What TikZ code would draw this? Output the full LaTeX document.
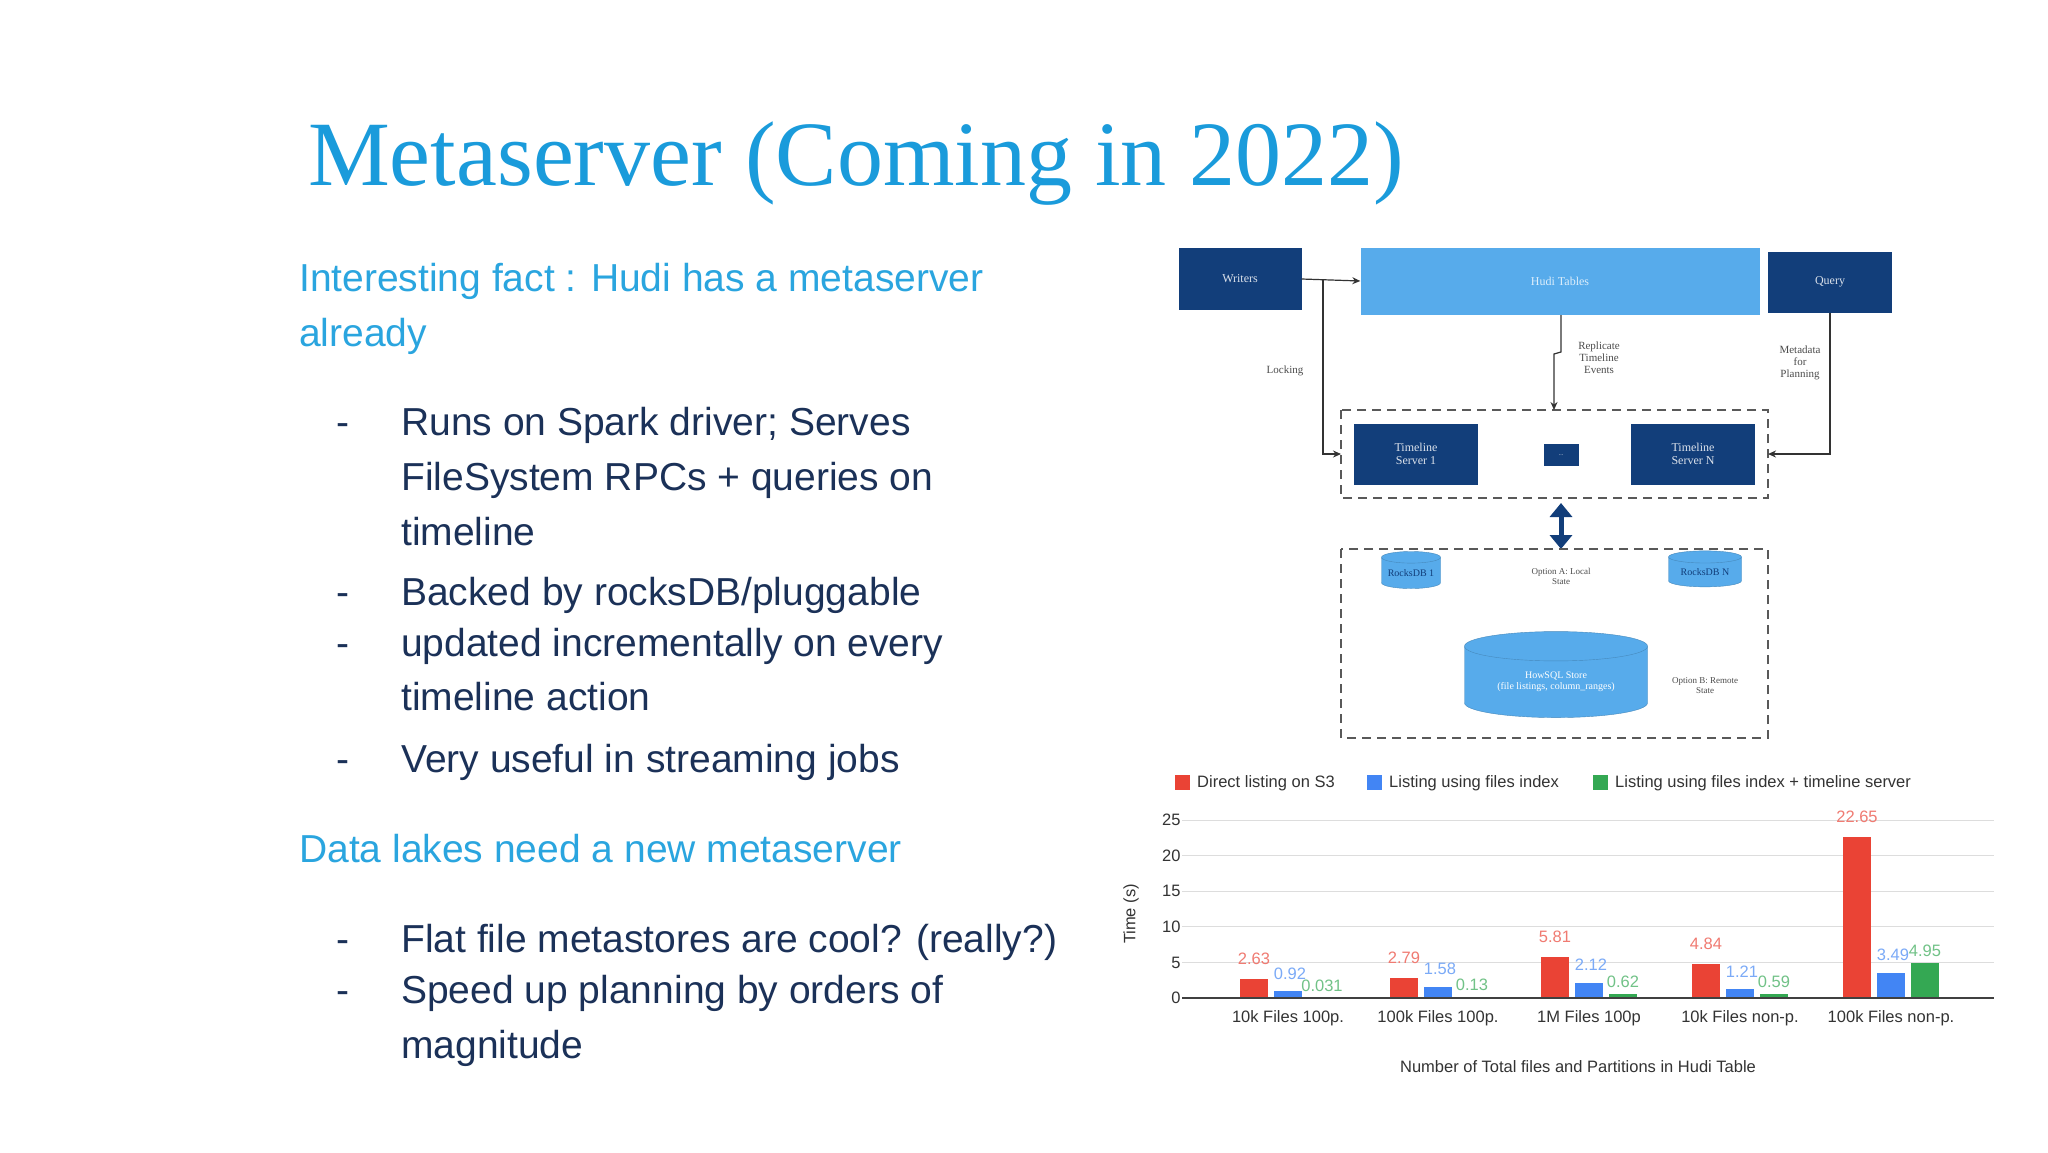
\documentclass[tikz,border=0pt]{standalone}
\usepackage{fontspec}
\setmainfont{Liberation Sans}
\newfontfamily\ser{Liberation Serif}
\usetikzlibrary{shapes.geometric,arrows.meta}
\definecolor{ttl}{HTML}{1A9BDB}
\definecolor{sub}{HTML}{2AA5DF}
\definecolor{body}{HTML}{1B3158}
\definecolor{navy}{HTML}{123E7A}
\definecolor{lb}{HTML}{57ABEB}
\definecolor{cr}{HTML}{EA4335}
\definecolor{cb}{HTML}{4285F4}
\definecolor{cg}{HTML}{34A853}
\definecolor{grid}{HTML}{DDDDDD}
\tikzset{
 bodytxt/.style={anchor=base west,text=body,font=\fontsize{39}{46}\selectfont,inner sep=0},
 subtxt/.style={anchor=base west,text=sub,font=\fontsize{39}{46}\selectfont,inner sep=0},
 nbox/.style={fill=navy,text=white!85!navy,font=\ser\fontsize{12}{13}\selectfont,align=center,inner sep=0},
 lab/.style={font=\ser\fontsize{11}{12}\selectfont,text=black!70,align=center,inner sep=1},
 arr/.style={-{Stealth[length=8,width=7]},line width=1.2,black!80},
 dbox/.style={draw=black!65,dashed,line width=1.6,dash pattern=on 9 off 6},
 cyl/.style={cylinder,shape border rotate=90,aspect=0.25,fill=lb,draw=lb!80!black,text=white,font=\ser\fontsize{10}{11}\selectfont,align=center,inner sep=0},
 ax/.style={font=\fontsize{16.5}{18}\selectfont,text=black!80},
}
\begin{document}
\begin{tikzpicture}[x=1pt,y=-1pt]
\useasboundingbox (0,0) rectangle (2048,1152);
\fill[white] (0,0) rectangle (2048,1152);
\node[anchor=base west,text=ttl,font=\ser\fontsize{92}{96}\selectfont,inner sep=0] (title) at (308,185) {Metaserver (Coming in 2022)};
\node[subtxt] (s1) at (299,291) {Interesting fact : Hudi has a metaserver};
\node[subtxt] (s1b) at (299,346) {already};
\foreach \y/\d/\t in {435/1/{Runs on Spark driver; Serves},490/0/{FileSystem RPCs + queries on},545/0/{timeline},605/1/{Backed by rocksDB/pluggable},656/1/{updated incrementally on every},710/0/{timeline action},772/1/{Very useful in streaming jobs},952/1/{Flat file metastores are cool? (really?)},1003/1/{Speed up planning by orders of},1058/0/{magnitude}}{
 \node[bodytxt] at (401,\y) {\t};
 \ifnum\d=1 \node[bodytxt] at (336,\y) {-};\fi
}
\node[subtxt] (s2) at (299,862) {Data lakes need a new metaserver};
% diagram
\node[nbox,minimum width=123,minimum height=62] (wr) at (1240,279) {Writers};
\node[nbox,fill=lb,text=white!80!lb,minimum width=399,minimum height=67] (hudi) at (1560,281) {Hudi Tables};
\node[nbox,minimum width=124,minimum height=61] (qu) at (1830,282) {Query};
\draw[dbox] (1341,410) rectangle (1768,498);
\coordinate (b1w) at (1341,454); \coordinate (b1e) at (1768,454); \coordinate (b1n) at (1554,410);
\node[nbox,minimum width=124,minimum height=61] (ts1) at (1416,454) {Timeline\\Server 1};
\node[nbox,minimum width=124,minimum height=61] (tsn) at (1693,454) {Timeline\\Server N};
\node[nbox,minimum width=35,minimum height=22,font=\ser\fontsize{6}{6}\selectfont] (dots) at (1561,455) {...};
\draw[arr] (wr.east) -- (hudi.west);
\draw[arr] (1323,279) |- (b1w);
\node[lab] (lock) at (1285,371) {Locking};
\draw[arr] (1561,315) -- (1561,352) -- (1554,354) -- (b1n);
\node[lab] (rep) at (1599,358) {Replicate\\Timeline\\Events};
\draw[arr] (qu.south -| 1830,0) |- (b1e);
\node[lab] (meta) at (1800,363) {Metadata\\for\\Planning};
\draw[navy,line width=5,{Triangle[length=14,width=22]}-{Triangle[length=14,width=22]}] (1561,503) -- (1561,549);
\draw[dbox] (1341,549) rectangle (1768,738);
\node[cyl,text=navy,minimum width=59,minimum height=37] (r1) at (1411,573) {RocksDB 1};
\node[cyl,text=navy,minimum width=73,minimum height=36] (rn) at (1705,572) {RocksDB N};
\node[lab,font=\ser\fontsize{9}{10}\selectfont] (oa) at (1561,576) {Option A: Local\\State};
\node[cyl,minimum width=183,minimum height=86] (hb) at (1556,682) {HowSQL Store\\(file listings, column\_ranges)};
\node[lab,font=\ser\fontsize{9}{10}\selectfont] (ob) at (1705,686) {Option B: Remote\\State};
% chart
\foreach \c/\x/\t in {cr/1175/Direct listing on S3,cb/1367/Listing using files index,cg/1593/Listing using files index + timeline server}{
 \fill[\c] (\x,775) rectangle ++(15,15);
 \node[ax,anchor=west,inner sep=0] at (\x+22,783) {\t};
}
\foreach \v in {5,10,15,20,25}{
 \draw[grid,line width=1] (1182,998-\v*7.12) -- (1994,998-\v*7.12);
}
\foreach \v in {0,5,10,15,20,25}{
 \node[ax,anchor=east] at (1184,998-\v*7.12) {\v};
}
\node[ax,rotate=90] (yl) at (1131,914) {Time (s)};
\foreach \cx/\r/\b/\g/\t in {1288/2.63/0.92/0.031/10k Files 100p.,1438/2.79/1.58/0.13/100k Files 100p.,1589/5.81/2.12/0.62/1M Files 100p,1740/4.84/1.21/0.59/10k Files non-p.,1891/22.65/3.49/4.95/100k Files non-p.}{
 \fill[cr] (\cx-48,998) rectangle (\cx-20,998-\r*7.12);
 \fill[cb] (\cx-14,998) rectangle (\cx+14,998-\b*7.12);
 \fill[cg] (\cx+20,998) rectangle (\cx+48,998-\g*7.12);
 \node[ax,text=cr!70] at (\cx-34,986-\r*7.12-8) {\r};
 \node[ax,text=cb!70] at (\cx+2,986-\b*7.12-6) {\b};
 \node[ax,text=cg!70] at (\cx+34,986-\g*7.12) {\g};
 \node[ax,anchor=north] at (\cx,1007) {\t};
}
\draw[black!75,line width=1.5] (1182,998) -- (1994,998);
\node[ax] (xl) at (1578,1067) {Number of Total files and Partitions in Hudi Table};
\end{tikzpicture}
\end{document}
